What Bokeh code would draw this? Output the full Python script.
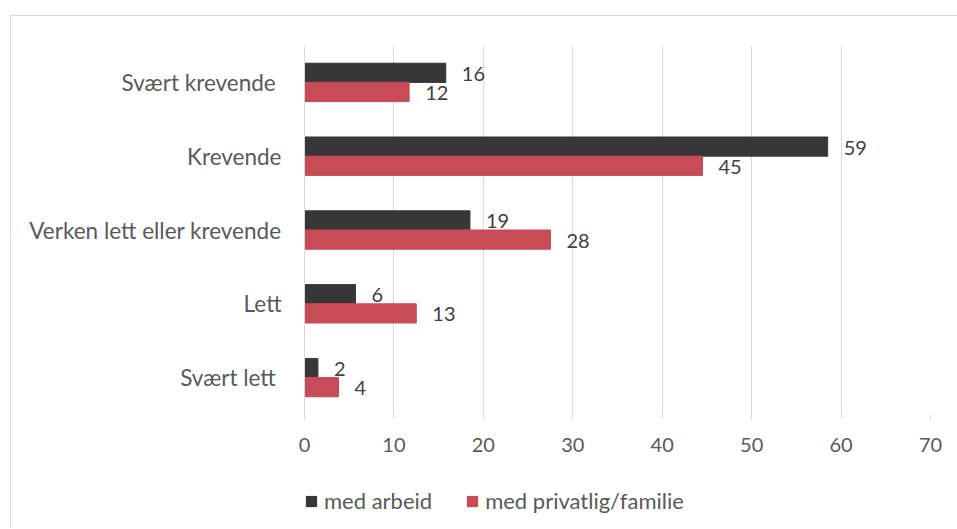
from bokeh.plotting import figure
from bokeh.models import FactorRange, Legend, LegendItem
from bokeh.layouts import column
from bokeh.transform import dodge
from bokeh.core.properties import value
from bokeh.embed import file_html
from bokeh.resources import INLINE

# --- data ---
categories = ["Svært krevende ", "Krevende", "Verken lett eller krevende", "Lett", "Svært lett "]
med_arbeid = [15.8, 58.5, 18.5, 5.7, 1.5]
med_privat = [11.7, 44.5, 27.5, 12.5, 3.8]
labels_arbeid = ["16", "59", "19", "6", "2"]
labels_privat = ["12", "45", "28", "13", "4"]
series_names = ["med arbeid", "med privatlig/familie"]
x_ticks = [0, 10, 20, 30, 40, 50, 60, 70]

DARK = "#373737"
RED = "#c84b58"
FONT = "Lato"

factors = list(reversed(categories))

p = figure(
    width=946, height=460,
    y_range=FactorRange(*factors, range_padding=0),
    x_range=(0, 70),
    output_backend="svg", toolbar_location=None,
    min_border_left=293, min_border_right=27,
    min_border_top=29, min_border_bottom=62,
)
p.outline_line_color = None
p.background_fill_color = "white"
p.border_fill_color = "white"

src = dict(cat=categories, a=med_arbeid, b=med_privat, la=labels_arbeid, lb=labels_privat)

p.hbar(y=dodge("cat", 0.13, range=p.y_range), right="a", left=0, height=0.26,
       color=DARK, source=src)
p.hbar(y=dodge("cat", -0.13, range=p.y_range), right="b", left=0, height=0.26,
       color=RED, source=src)

p.text(x="a", y=dodge("cat", 0.13, range=p.y_range), text="la", source=src,
       x_offset=16, y_offset=1, text_align="left", text_baseline="middle",
       text_font=value(FONT), text_font_size="20px", text_color="#404040")
p.text(x="b", y=dodge("cat", -0.13, range=p.y_range), text="lb", source=src,
       x_offset=16, y_offset=1, text_align="left", text_baseline="middle",
       text_font=value(FONT), text_font_size="20px", text_color="#404040")

# grid & axes
p.ygrid.grid_line_color = None
p.xgrid.grid_line_color = "#d9d9d9"
p.xgrid.grid_line_width = 1
p.xaxis.ticker = x_ticks
p.xaxis.axis_line_color = None
p.xaxis.major_tick_line_color = "#d9d9d9"
p.xaxis.major_tick_out = 5
p.xaxis.major_tick_in = 0
p.xaxis.minor_tick_line_color = None
p.xaxis.major_label_standoff = 18
p.xaxis.major_label_text_font = FONT
p.xaxis.major_label_text_font_size = "20px"
p.xaxis.major_label_text_color = "#595959"

p.yaxis.axis_line_color = "#d9d9d9"
p.yaxis.major_tick_line_color = None
p.yaxis.major_tick_out = 0
p.yaxis.major_tick_in = 0
p.yaxis.minor_tick_line_color = None
p.yaxis.major_label_standoff = 23
p.yaxis.major_label_text_font = FONT
p.yaxis.major_label_text_font_size = "22.5px"
p.yaxis.major_label_text_color = "#595959"

# legend in a separate strip below the chart (proxy glyphs lie outside its view)
lg = figure(
    width=946, height=52, x_range=(0, 1), y_range=(0, 1),
    output_backend="svg", toolbar_location=None,
    min_border_left=0, min_border_right=0, min_border_top=0, min_border_bottom=0,
)
lg.axis.visible = False
lg.grid.grid_line_color = None
lg.outline_line_color = None
la = lg.hbar(y=[5], right=[0], left=0, height=0.5, fill_color=DARK, line_color=None)
lb = lg.hbar(y=[5], right=[0], left=0, height=0.5, fill_color=RED, line_color=None)

legend = Legend(
    items=[LegendItem(label=series_names[0], renderers=[la]),
           LegendItem(label=series_names[1], renderers=[lb])],
    orientation="horizontal", location=(0, 14),
    glyph_width=14, glyph_height=14, label_standoff=6, spacing=33,
    padding=0, margin=0, border_line_color=None, background_fill_alpha=0,
    label_text_font=FONT, label_text_font_size="22px", label_text_color="#595959",
    label_height=22,
)
lg.add_layout(legend, "center")

layout = column(p, lg, spacing=0)
layout.margin = (15, 0, 0, 10)
layout.styles = {"border-top": "1px solid #d9d9d9", "border-left": "1px solid #d9d9d9"}

open("out.html", "w").write(file_html(layout, INLINE))
